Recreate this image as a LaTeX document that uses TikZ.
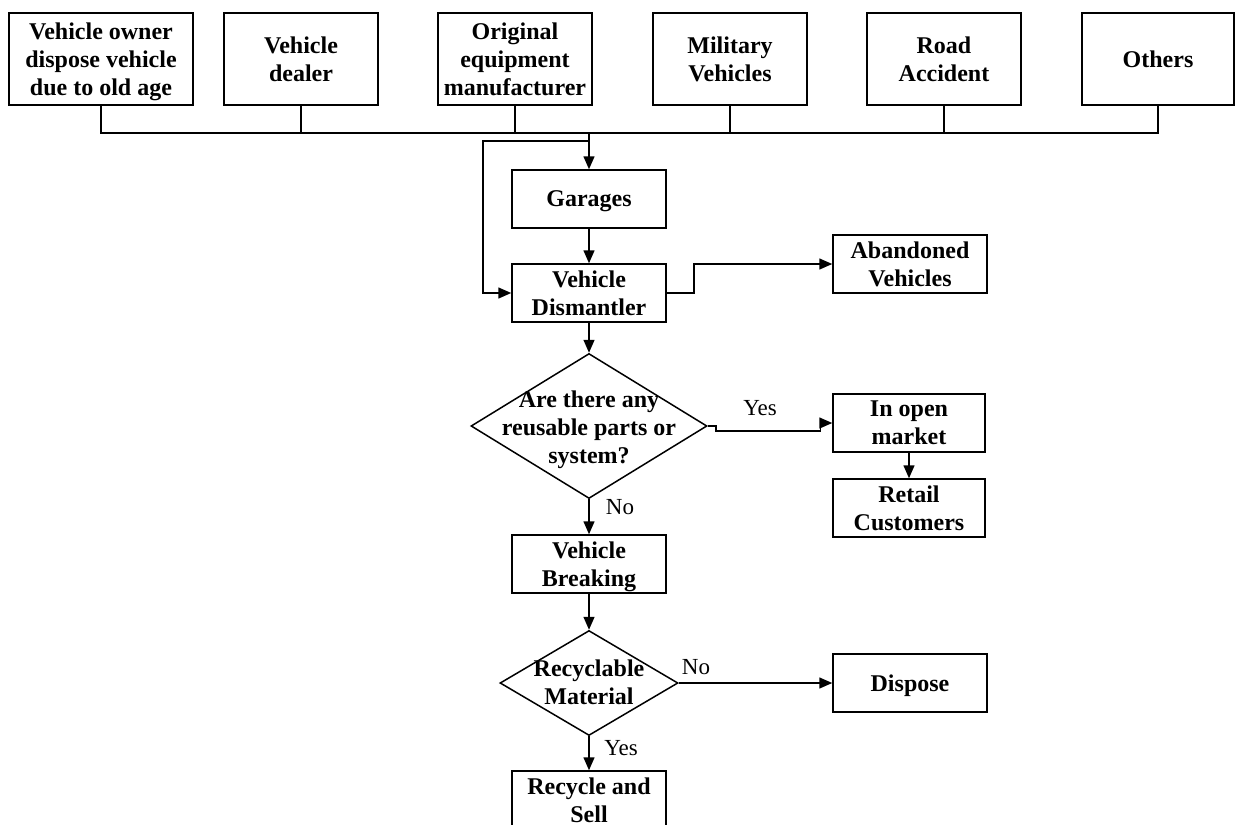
\documentclass[tikz,border=0pt]{standalone}
\usepackage{fontspec}
\setmainfont{Liberation Serif}
\usetikzlibrary{arrows.meta,shapes.geometric}
\tikzset{
  stage/.style 2 args={draw, line width=1.5pt, rectangle, inner sep=0pt,
    minimum width=#1, minimum height=#2, align=center, text depth=0pt,
    font=\fontsize{24}{28}\selectfont\bfseries},
  decision/.style 2 args={draw, line width=1.5pt, diamond, inner sep=0pt,
    minimum width=#1, minimum height=#2},
  qtext/.style={align=center, inner sep=0pt, text depth=0pt,
    font=\fontsize{24}{28}\selectfont\bfseries},
  tag/.style={inner sep=0pt, font=\fontsize{23}{27}\selectfont},
  wire/.style={line width=1.5pt},
  arr/.style={line width=1.5pt, -{Triangle[length=13pt,width=11pt]}},
}
\begin{document}
\begin{tikzpicture}[x=1pt,y=-1pt]
\useasboundingbox[fill=white] (0,0) rectangle (1235,825);

% sources
\node[stage={184pt}{92pt}] (b1) at (101,59) {Vehicle owner\\dispose vehicle\\due to old age};
\node[stage={154pt}{92pt}] (b2) at (301,59) {Vehicle\\dealer};
\node[stage={154pt}{92pt}] (b3) at (515,59) {Original\\equipment\\manufacturer};
\node[stage={154pt}{92pt}] (b4) at (730,59) {Military\\Vehicles};
\node[stage={154pt}{92pt}] (b5) at (944,59) {Road\\Accident};
\node[stage={152pt}{92pt}] (b6) at (1158,59) {Others};

% main column
\node[stage={154pt}{58pt}] (gar) at (589,199) {Garages};
\node[stage={154pt}{58pt}] (dis) at (589,293) {Vehicle\\Dismantler};
\node[stage={154pt}{58pt}] (ab) at (910,264) {Abandoned\\Vehicles};
\node[decision={236pt}{145pt}] (d1) at (589,426) {};
\node[qtext] (d1t) at (589,427) {Are there any\\reusable parts or\\system?};
\node[stage={152pt}{58pt}] (om) at (909,423) {In open\\market};
\node[stage={152pt}{58pt}] (rt) at (909,508) {Retail\\Customers};
\node[stage={154pt}{58pt}] (vb) at (589,564) {Vehicle\\Breaking};
\node[decision={178pt}{105pt}] (d2) at (589,683) {};
\node[qtext] (d2t) at (589,682) {Recyclable\\Material};
\node[stage={154pt}{58pt}] (dp) at (910,683) {Dispose};
\node[stage={154pt}{58pt}] (rs) at (589,800) {Recycle and\\Sell};

% collecting bus
\coordinate (bus) at (0,133);
\coordinate (lp) at (483,141);
\draw[wire] (b1.south) -- (b1.south |- bus) -- (b6.south |- bus) -- (b6.south);
\foreach \n in {b2,b3,b4,b5} \draw[wire] (\n.south) -- (\n.south |- bus);
\draw[arr] (gar.north |- bus) -- (gar.north);
\draw[arr] (gar.north |- lp) -- (lp) |- (dis.west);

% flow
\draw[arr] (gar) -- (dis);
\draw[arr] (dis.east) -- ++(27,0) |- (ab.west);
\draw[arr] (dis) -- (d1.north);
\draw[arr] (d1.east) -- ++(8,0) -- ++(0,5) -| ([xshift=-12pt]om.west) -- (om.west);
\draw[arr] (om) -- (rt);
\draw[arr] (d1.south) -- (vb.north);
\draw[arr] (vb) -- (d2.north);
\draw[arr] (d2.east) -- (dp.west);
\draw[arr] (d2.south) -- (rs.north);

% branch labels
\node[tag] (y1) at (760,408) {Yes};
\node[tag] (n1) at (620,507) {No};
\node[tag] (n2) at (696,667) {No};
\node[tag] (y2) at (621,748) {Yes};
\end{tikzpicture}
\end{document}
